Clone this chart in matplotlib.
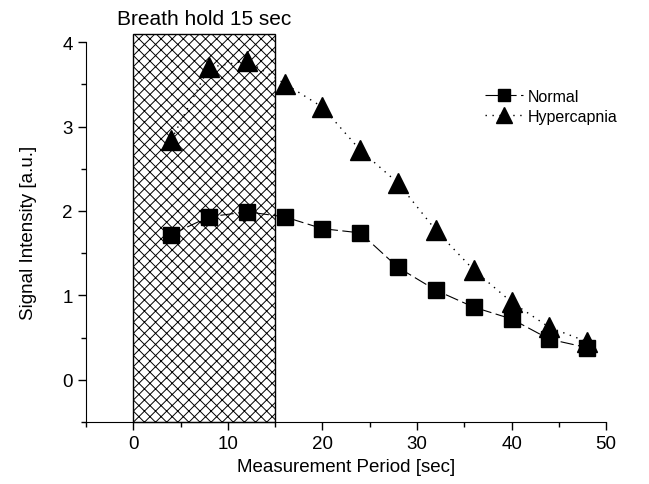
import matplotlib

matplotlib.use("Agg")
import matplotlib.pyplot as plt
from matplotlib.patches import Rectangle

# measurement times [sec]
TIME = [4, 8, 12, 16, 20, 24, 28, 32, 36, 40, 44, 48]
NORMAL = [1.72, 1.93, 1.99, 1.93, 1.79, 1.74, 1.33, 1.06, 0.86, 0.72, 0.48, 0.38]
HYPERCAPNIA = [2.84, 3.70, 3.78, 3.51, 3.23, 2.72, 2.33, 1.77, 1.30, 0.92, 0.62, 0.45]
HOLD_START, HOLD_END = 0, 15

plt.rcParams.update({
    "font.family": ["Liberation Sans", "DejaVu Sans"],
    "font.size": 13.5,
    "hatch.linewidth": 0.7,
})

fig = plt.figure(figsize=(6.49, 4.85), dpi=100)
ax = fig.add_axes([0.1325, 0.128, 0.8015, 0.783])

# breath-hold window
rect = Rectangle((HOLD_START, -0.5), HOLD_END - HOLD_START, 4.6, facecolor="white",
                 edgecolor="black", hatch="xxx", lw=1.0, clip_on=False, zorder=1)
ax.add_patch(rect)
ax.text((HOLD_START + HOLD_END) / 2, 4.17, "Breath hold 15 sec", ha="center", va="bottom",
        fontsize=15)

ax.plot(TIME, NORMAL, color="black", lw=0.8, ls=(0, (12, 4)), marker="s", ms=12,
        label="Normal", zorder=3, clip_on=False)
ax.plot(TIME, HYPERCAPNIA, color="black", lw=1.0, ls=(0, (1, 4)), marker="^", ms=15,
        label="Hypercapnia", zorder=3, clip_on=False)

ax.set_xlim(-5, 50)
ax.set_ylim(-0.5, 4)
ax.set_xticks([0, 10, 20, 30, 40, 50])
ax.set_xticks([-5, 5, 15, 25, 35, 45], minor=True)
ax.set_yticks([0, 1, 2, 3, 4])
ax.set_yticks([-0.5, 0.5, 1.5, 2.5, 3.5], minor=True)
ax.tick_params(which="major", direction="out", length=6, width=1, labelsize=13.5)
ax.tick_params(which="minor", direction="out", length=3.5, width=1)
for s in ("top", "right"):
    ax.spines[s].set_visible(False)
ax.set_xlabel("Measurement Period [sec]", fontsize=13.5)
ax.set_ylabel("Signal Intensity [a.u.]", fontsize=13.5, labelpad=18)

ax.legend(loc="upper right", bbox_to_anchor=(1.05, 0.915), frameon=False, markerscale=0.75,
          handlelength=2.4, handletextpad=0.3, labelspacing=0.3, fontsize=11.5)

fig.savefig("out.png", dpi=100)
